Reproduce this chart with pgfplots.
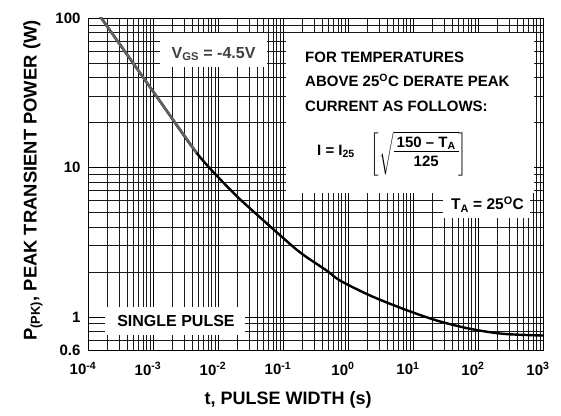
\documentclass[border=0pt]{standalone}
\usepackage{pgfplots}
\pgfplotsset{compat=1.18}
\usepackage{amsmath}
\usepackage{fontspec}
\setmainfont{Liberation Sans}
\usetikzlibrary{calc}
\begin{document}
\begin{tikzpicture}
\begin{axis}[
  scale only axis, width=455pt, height=332pt,
  xmode=log, ymode=log,
  xmin=1e-4, xmax=1e3, ymin=0.6, ymax=100,
  grid=both,
  major grid style={black, line width=0.6pt},
  minor grid style={black!90, line width=0.5pt},
  axis line style={black, line width=0.8pt},
  major tick length=0pt, minor tick length=0pt,
  xtick={1e-4,1e-3,1e-2,1e-1,1,1e1,1e2,1e3},
  xticklabels={10\textsuperscript{-4},10\textsuperscript{-3},10\textsuperscript{-2},10\textsuperscript{-1},10\textsuperscript{0},10\textsuperscript{1},10\textsuperscript{2},10\textsuperscript{3}},
  minor xtick={2e-4,3e-4,4e-4,5e-4,6e-4,7e-4,8e-4,9e-4,2e-3,3e-3,4e-3,5e-3,6e-3,7e-3,8e-3,9e-3,0.02,0.03,0.04,0.05,0.06,0.07,0.08,0.09,0.2,0.3,0.4,0.5,0.6,0.7,0.8,0.9,2,3,4,5,6,7,8,9,20,30,40,50,60,70,80,90,200,300,400,500,600,700,800,900},
  ytick={0.6,1,10,100},
  yticklabels={0.6,1,10,100},
  minor ytick={0.7,0.8,0.9,2,3,4,5,6,7,8,9,20,30,40,50,60,70,80,90},
  tick label style={font=\bfseries\fontsize{15}{16}\selectfont},
  xticklabel style={xshift=-5pt, yshift=-9pt},
  yticklabel style={xshift=-4pt},
  xlabel={t, PULSE WIDTH (s)},
  xlabel style={at={(axis description cs:0.44,-0.1506)}, anchor=center, font=\bfseries\fontsize{18}{20}\selectfont},
  ylabel={P\textsubscript{(PK)}, PEAK TRANSIENT POWER (W)},
  ylabel style={at={(axis description cs:-0.121,0.5105)}, anchor=center, rotate=0, font=\bfseries\fontsize{18.4}{20}\selectfont},
  clip=true,
]
% white boxes
\node[fill=white, inner sep=0pt, minimum width=107pt, minimum height=34pt] at (axis description cs:0.276,0.904) {};
\node[fill=white, inner sep=0pt, minimum width=248pt, minimum height=160pt] at (axis description cs:0.7077,0.7139) {};
\node[fill=white, inner sep=0pt, minimum width=87pt, minimum height=28pt] at (axis description cs:0.8758,0.4398) {};
\node[fill=white, inner sep=0pt, minimum width=140pt, minimum height=28pt] at (axis description cs:0.1912,0.0873) {};
% texts
\node[anchor=base, inner sep=0pt, text=black!75, font=\bfseries\fontsize{16}{18}\selectfont] at (axis description cs:0.276,0.8795) {V\textsubscript{GS} = -4.5V};
\node[anchor=base west, inner sep=0pt, font=\bfseries\fontsize{15}{17}\selectfont] at (axis description cs:0.4769,0.8645) {FOR TEMPERATURES};
\node[anchor=base west, inner sep=0pt, font=\bfseries\fontsize{15}{17}\selectfont] at (axis description cs:0.4769,0.7922) {ABOVE 25\textsuperscript{O}C DERATE PEAK};
\node[anchor=base west, inner sep=0pt, font=\bfseries\fontsize{15}{17}\selectfont] at (axis description cs:0.4769,0.7169) {CURRENT AS FOLLOWS:};
\node[anchor=base west, inner sep=0pt, font=\bfseries\fontsize{15}{17}\selectfont] at (axis description cs:0.5033,0.5873) {I = I\textsubscript{25}};
\node[anchor=center, inner sep=0pt, font=\bfseries\fontsize{15}{16}\selectfont] at (axis description cs:0.7275,0.5919) {$\left[\sqrt{\vcenter{\hbox{\setlength{\tabcolsep}{3pt}\renewcommand{\arraystretch}{1.0}\begin{tabular}{c}150 -- T\textsubscript{A}\\[-1pt]\hline\rule{0pt}{15pt}125\end{tabular}}}}\right]$};
\node[anchor=base, inner sep=0pt, font=\bfseries\fontsize{15.5}{17}\selectfont] at (axis description cs:0.8780,0.4217) {T\textsubscript{A} = 25\textsuperscript{O}C};
\node[anchor=base, inner sep=0pt, font=\bfseries\fontsize{16}{18}\selectfont] at (axis description cs:0.1934,0.0693) {SINGLE PULSE};
% curve
\addplot[black, line width=2.4pt, smooth] coordinates {
  (1.55e-4,102) (1.14e-3,29.8) (4.7e-3,12.5) (0.0136,7.5) (0.0218,6.12) (0.0709,3.86)
  (0.183,2.70) (0.47,2.04) (0.753,1.75) (2.18,1.39) (7.1,1.13)
  (23.2,0.945) (75.4,0.832) (245,0.77) (1000,0.75)
};
\addplot[black!62, line width=2.6pt] coordinates {
  (1.55e-4,102) (1.14e-3,29.8) (4.7e-3,12.5)
};
\end{axis}
\pgfresetboundingbox
\path[use as bounding box] ($(current axis.south west)+(-88pt,-66pt)$) rectangle ($(current axis.north east)+(18pt,18pt)$);
\end{tikzpicture}
\end{document}
